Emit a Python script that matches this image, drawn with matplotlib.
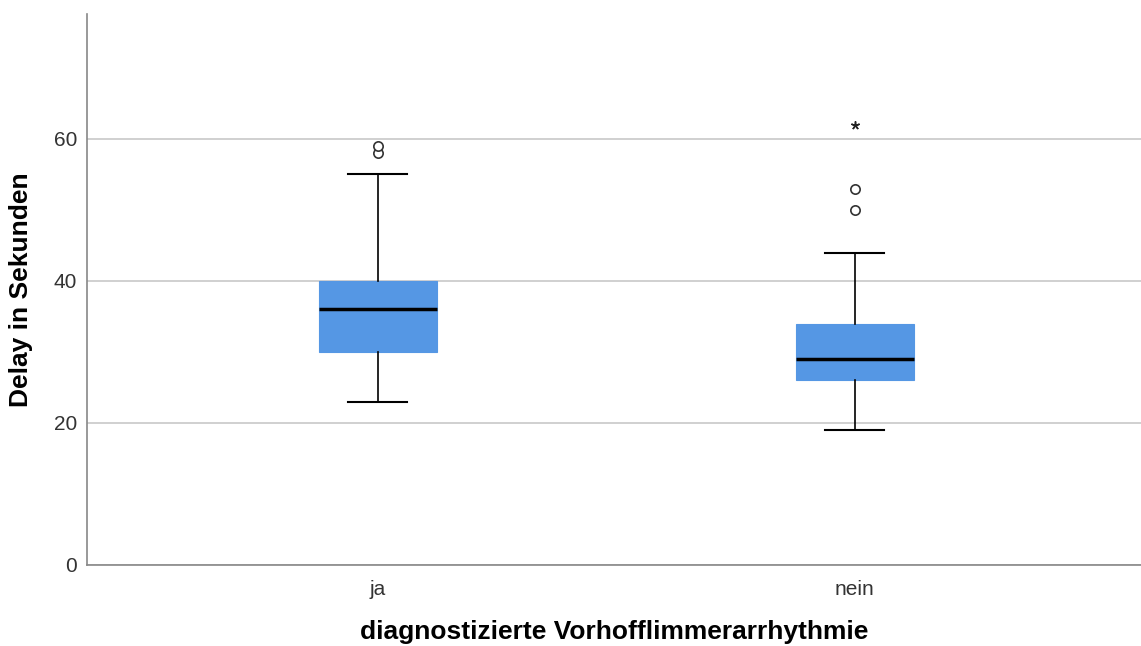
import numpy as np
import matplotlib.pyplot as plt

# Boxplot statistics
gruppen = ['ja', 'nein']
q1 = [30, 26]
median = [36, 29]
q3 = [40, 34]
whisker_lo = [23, 19]
whisker_hi = [55, 44]
ausreisser = [[58, 59], [50, 53]]   # circles
extremwerte = [[], [62]]            # stars

plt.rcParams['font.family'] = ['Liberation Sans', 'DejaVu Sans']

fig = plt.figure(figsize=(11.41, 6.46), dpi=100)
ax = fig.add_axes([87 / 1141, 1 - 565 / 646, 1054 / 1141, 551 / 646])

stats = []
for i in range(len(gruppen)):
    stats.append({'label': gruppen[i], 'q1': q1[i], 'med': median[i], 'q3': q3[i],
                  'whislo': whisker_lo[i], 'whishi': whisker_hi[i], 'fliers': []})

pos = np.arange(len(gruppen))
ax.bxp(stats, positions=pos, widths=0.247, patch_artist=True, showfliers=False,
       boxprops=dict(facecolor='#5597e4', edgecolor='#5597e4', linewidth=0.8),
       medianprops=dict(color='black', linewidth=2.5),
       whiskerprops=dict(color='black', linewidth=1.2),
       capprops=dict(color='black', linewidth=1.5),
       capwidths=0.124, zorder=3)

for i in range(len(gruppen)):
    ax.scatter([pos[i]] * len(ausreisser[i]), ausreisser[i], s=45, facecolor='white',
               edgecolor='#333333', linewidth=1.2, zorder=4)
    if extremwerte[i]:
        ax.scatter([pos[i]] * len(extremwerte[i]), extremwerte[i], marker=(5, 2, 0), s=30,
                   color='#222222', linewidth=1.1, zorder=4)

ax.set_xlim(-0.61, 1.6)
ax.set_ylim(0, 77.6)
ax.set_yticks([0, 20, 40, 60])
ax.set_xticks(pos)
ax.set_xticklabels(gruppen)
ax.yaxis.grid(True, color='#c8c8c8', linewidth=1.2)
ax.set_axisbelow(True)
ax.tick_params(length=0, labelsize=15, colors='#333333', pad=7)
ax.tick_params(axis='x', pad=11)
for s in ['top', 'right']:
    ax.spines[s].set_visible(False)
for s in ['left', 'bottom']:
    ax.spines[s].set_color('#888888')
    ax.spines[s].set_linewidth(1.2)

ax.set_ylabel('Delay in Sekunden', fontsize=19, fontweight='bold', labelpad=15)
ax.set_xlabel('diagnostizierte Vorhofflimmerarrhythmie', fontsize=19, fontweight='bold', labelpad=15)

fig.savefig('out.png', dpi=100)
